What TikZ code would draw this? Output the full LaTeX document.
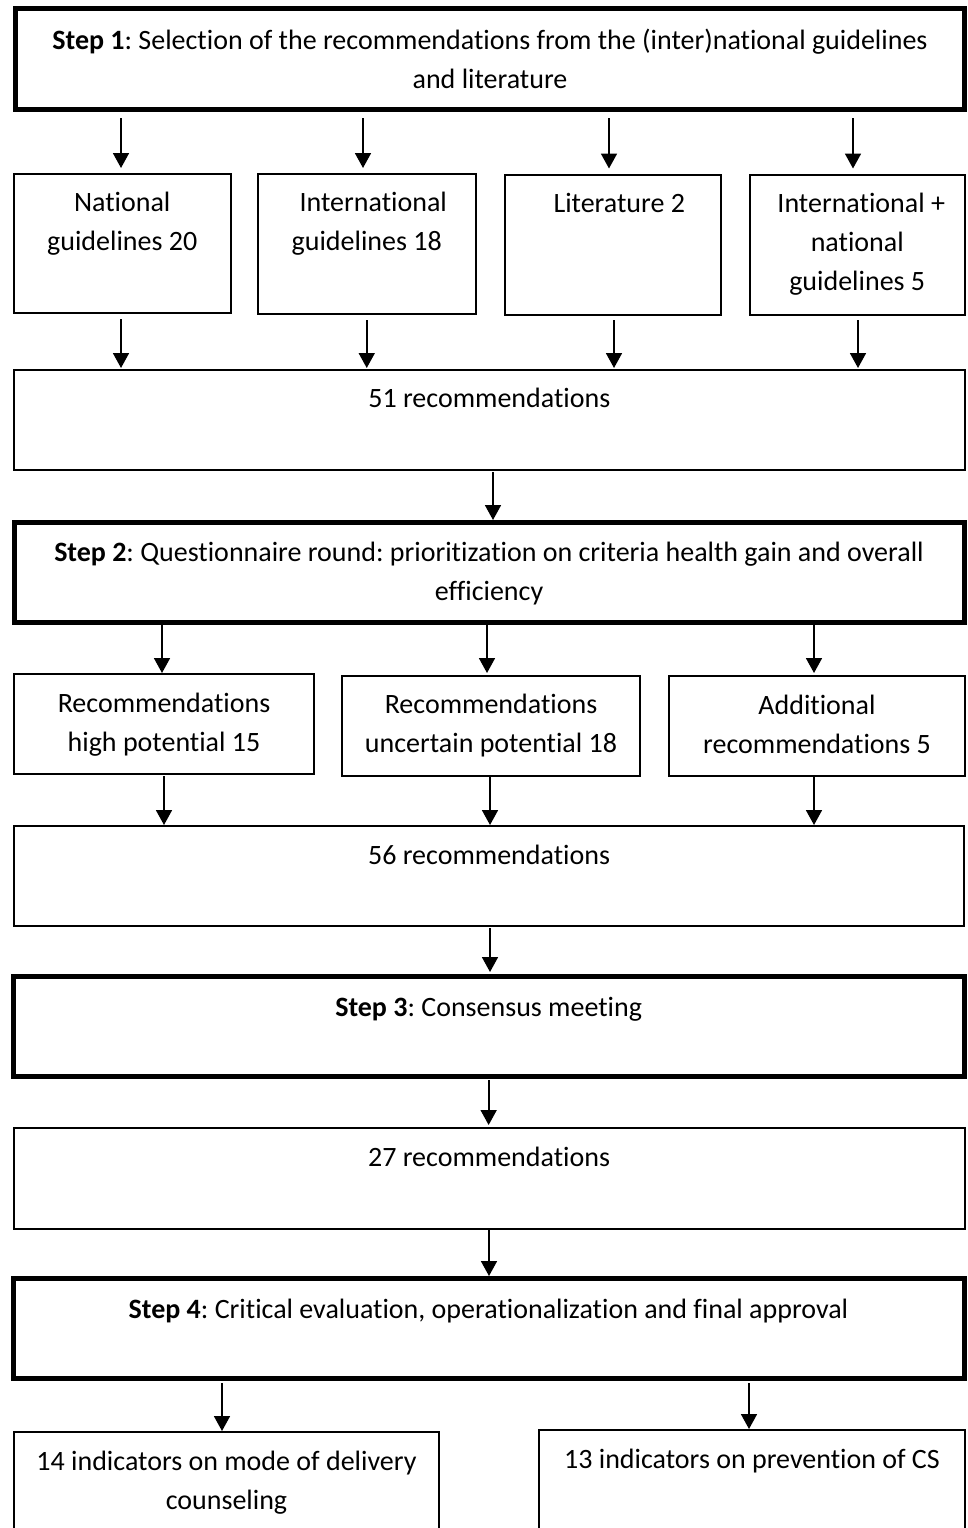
\documentclass[tikz,border=0pt]{standalone}
\usepackage{fontspec}
\setmainfont{Carlito}[Ligatures=NoCommon]
\usetikzlibrary{arrows.meta}
\newcommand\mlines[1]{\vtop{\halign{\hfil##\hfil\cr#1\crcr}}}
\frenchspacing
\begin{document}
\begin{tikzpicture}[x=1pt,y=-1pt,
  every node/.style={outer sep=0pt, inner sep=0pt},
  thinbox/.style={draw, line width=2pt, rectangle},
  stepbox/.style={draw, line width=5pt, rectangle},
  txt/.style={anchor=base, font=\fontsize{28}{39.3}\selectfont},
  arr/.style={line width=1.8pt, -{Triangle[length=15pt,width=16pt]}}]
\useasboundingbox (0,0) rectangle (967,1528);

% boxes
\node[stepbox, minimum width=949, minimum height=101] (s1) at (490,59) {};
\node[thinbox, minimum width=216.5, minimum height=139] (nat) at (122.25,243.5) {};
\node[thinbox, minimum width=217.5, minimum height=140] (int) at (366.75,244) {};
\node[thinbox, minimum width=216.5, minimum height=140.5] (lit) at (612.75,244.75) {};
\node[thinbox, minimum width=215.5, minimum height=140.5] (inn) at (857.25,244.75) {};
\node[thinbox, minimum width=950.5, minimum height=99.5] (r51) at (489.25,419.75) {};
\node[stepbox, minimum width=950, minimum height=100] (s2) at (489,572.5) {};
\node[thinbox, minimum width=300, minimum height=100] (b1) at (164,724) {};
\node[thinbox, minimum width=298, minimum height=100] (b2) at (491,725.5) {};
\node[thinbox, minimum width=296, minimum height=100] (b3) at (817,726) {};
\node[thinbox, minimum width=950, minimum height=100] (r56) at (489,876) {};
\node[stepbox, minimum width=950.7, minimum height=100.5] (s3) at (488.65,1026.25) {};
\node[thinbox, minimum width=951, minimum height=100.5] (r27) at (489,1178.25) {};
\node[stepbox, minimum width=951, minimum height=100] (s4) at (488.5,1328.5) {};
\node[thinbox, minimum width=425, minimum height=113] (bl) at (226.5,1488.5) {};
\node[thinbox, minimum width=426, minimum height=115] (br) at (752,1487.5) {};

% texts
\node[txt] (t1) at (490,49) {\mlines{\textbf{Step 1}: Selection of the recommendations from the (inter)national guidelines\cr and literature}};
\node[txt] (tnat) at (122.25,211.5) {\mlines{National\cr guidelines 20}};
\node[txt] (tint) at (366.75,211.5) {\mlines{\hspace*{13pt}International\cr guidelines 18}};
\node[txt] (tlit) at (612.75,212) {\mlines{\hspace*{13pt}Literature 2}};
\node[txt] (tinn) at (857.25,212) {\mlines{\hspace*{8pt}International +\cr national\cr guidelines 5}};
\node[txt] (t51) at (489.25,407) {51 recommendations};
\node[txt] (t2) at (489,561) {\mlines{\textbf{Step 2}: Questionnaire round: prioritization on criteria health gain and overall\cr efficiency}};
\node[txt] (tb1) at (164,712.5) {\mlines{Recommendations\cr high potential 15}};
\node[txt] (tb2) at (491,713) {\mlines{Recommendations\cr uncertain potential 18}};
\node[txt] (tb3) at (817,714) {\mlines{Additional\cr recommendations 5}};
\node[txt] (t56) at (489,864) {56 recommendations};
\node[txt] (t3) at (488.65,1016) {\textbf{Step 3}: Consensus meeting};
\node[txt] (t27) at (489,1166) {27 recommendations};
\node[txt] (t4) at (488.5,1318) {\textbf{Step 4}: Critical evaluation, operationalization and final approval};
\node[txt] (tbl) at (226.5,1470) {\mlines{14 indicators on mode of delivery\cr counseling}};
\node[txt] (tbr) at (752,1468) {13 indicators on prevention of CS};

% arrows step 1 -> sources
\draw[arr, shorten <=8.5pt, shorten >=6pt] ([xshift=-1.25pt]nat.north |- s1.south) -- ([xshift=-1.25pt]nat.north);
\draw[arr, shorten <=8.5pt, shorten >=6pt] ([xshift=-3.75pt]int.north |- s1.south) -- ([xshift=-3.75pt]int.north);
\draw[arr, shorten <=8.5pt, shorten >=6pt] ([xshift=-3.75pt]lit.north |- s1.south) -- ([xshift=-3.75pt]lit.north);
\draw[arr, shorten <=8.5pt, shorten >=6pt] ([xshift=-4.25pt]inn.north |- s1.south) -- ([xshift=-4.25pt]inn.north);
% sources -> 51
\draw[arr, shorten <=6pt, shorten >=2pt] ([xshift=-1.25pt]nat.south) -- ([xshift=-1.25pt]nat.south |- r51.north);
\draw[arr, shorten <=6pt, shorten >=2pt] (int.south) -- (int.south |- r51.north);
\draw[arr, shorten <=5pt, shorten >=2pt] ([xshift=1.25pt]lit.south) -- ([xshift=1.25pt]lit.south |- r51.north);
\draw[arr, shorten <=5pt, shorten >=2pt] ([xshift=0.75pt]inn.south) -- ([xshift=0.75pt]inn.south |- r51.north);
% 51 -> step 2
\draw[arr, shorten <=2.5pt, shorten >=2.5pt] ([xshift=3.75pt]r51.south) -- ([xshift=3.75pt]r51.south |- s2.north);
% step 2 -> b1..b3
\draw[arr, shorten <=2.5pt, shorten >=1pt] ([xshift=-2pt]b1.north |- s2.south) -- ([xshift=-2pt]b1.north);
\draw[arr, shorten <=2.5pt, shorten >=2.5pt] ([xshift=-4pt]b2.north |- s2.south) -- ([xshift=-4pt]b2.north);
\draw[arr, shorten <=2.5pt, shorten >=3pt] ([xshift=-3pt]b3.north |- s2.south) -- ([xshift=-3pt]b3.north);
% b1..b3 -> 56
\draw[arr, shorten <=2pt, shorten >=1pt] (b1.south) -- (b1.south |- r56.north);
\draw[arr, shorten <=1pt, shorten >=1pt] ([xshift=-1pt]b2.south) -- ([xshift=-1pt]b2.south |- r56.north);
\draw[arr, shorten <=1pt, shorten >=1pt] ([xshift=-3pt]b3.south) -- ([xshift=-3pt]b3.south |- r56.north);
% 56 -> step 3 -> 27 -> step 4
\draw[arr, shorten <=2pt, shorten >=4pt] ([xshift=1pt]r56.south) -- ([xshift=1pt]r56.south |- s3.north);
\draw[arr, shorten <=3.5pt, shorten >=3pt] (s3.south) -- (s3.south |- r27.north);
\draw[arr, shorten <=1.5pt, shorten >=2.5pt] (r27.south) -- (r27.south |- s4.north);
% step 4 -> indicators
\draw[arr, shorten <=4.5pt, shorten >=1pt] ([xshift=-4.5pt]bl.north |- s4.south) -- ([xshift=-4.5pt]bl.north);
\draw[arr, shorten <=4.5pt, shorten >=1pt] ([xshift=-3pt]br.north |- s4.south) -- ([xshift=-3pt]br.north);
\end{tikzpicture}
\end{document}
